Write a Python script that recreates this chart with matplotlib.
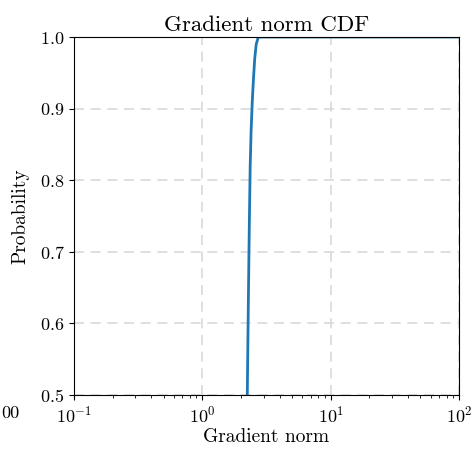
import matplotlib
matplotlib.use('Agg')
import matplotlib.pyplot as plt
import numpy as np

plt.rcParams['font.family'] = 'serif'
plt.rcParams['font.serif'] = ['cmr10']
plt.rcParams['mathtext.fontset'] = 'cm'
plt.rcParams['axes.formatter.use_mathtext'] = True
plt.rcParams['axes.unicode_minus'] = False

# cdf of gradient norms
grad_norm = [2.20, 2.24, 2.28, 2.32, 2.36, 2.40, 2.45, 2.50, 2.56, 2.63, 2.73, 100.0]
prob = [0.45, 0.50, 0.62, 0.73, 0.82, 0.87, 0.91, 0.94, 0.97, 0.99, 1.0, 1.0]

fig = plt.figure(figsize=(4.75, 4.49), dpi=100)
ax = fig.add_axes([74/475, 1-395/449, (459-74)/475, (395-37)/449])
ax.plot(grad_norm, prob, color='#1f77b4', lw=2)
ax.set_xscale('log')
ax.set_xlim(0.1, 100)
ax.set_ylim(0.5, 1.0)
ax.set_yticks([0.5, 0.6, 0.7, 0.8, 0.9, 1.0])
ax.grid(True, which='major', ls=(0, (6, 4)), color='#d9d9d9', lw=1.2)
ax.tick_params(labelsize=13)
ax.set_title('Gradient norm CDF', fontsize=16.5, pad=4)
ax.set_xlabel('Gradient norm', fontsize=14, labelpad=2)
ax.set_ylabel('Probability', fontsize=14, labelpad=7)
fig.text(19/475, 1-413/449, '00', ha='right', va='center', fontsize=13)

fig.savefig('out.png', dpi=100)
